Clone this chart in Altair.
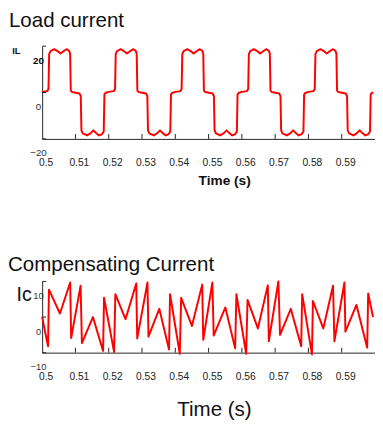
import altair as alt
import pandas as pd

# ---------------- data ----------------
load_t = [
    0.5000, 0.5015, 0.5019, 0.5021, 0.5025, 0.5036, 0.5046, 0.5055, 0.5065, 0.5074, 0.5081, 0.5084, 0.5086, 0.5090,
    0.5112, 0.5116, 0.5118, 0.5122, 0.5135, 0.5145, 0.5154, 0.5163, 0.5171, 0.5180, 0.5185, 0.5187, 0.5190,
    0.5200, 0.5215, 0.5219, 0.5221, 0.5225, 0.5236, 0.5246, 0.5255, 0.5265, 0.5274, 0.5281, 0.5284, 0.5286, 0.5290,
    0.5312, 0.5316, 0.5318, 0.5322, 0.5335, 0.5345, 0.5354, 0.5363, 0.5371, 0.5380, 0.5385, 0.5387, 0.5390,
    0.5400, 0.5415, 0.5419, 0.5421, 0.5425, 0.5436, 0.5446, 0.5455, 0.5465, 0.5474, 0.5481, 0.5484, 0.5486, 0.5490,
    0.5512, 0.5516, 0.5518, 0.5522, 0.5535, 0.5545, 0.5554, 0.5563, 0.5571, 0.5580, 0.5585, 0.5587, 0.5590,
    0.5600, 0.5615, 0.5619, 0.5621, 0.5625, 0.5636, 0.5646, 0.5655, 0.5665, 0.5674, 0.5681, 0.5684, 0.5686, 0.5690,
    0.5712, 0.5716, 0.5718, 0.5722, 0.5735, 0.5745, 0.5754, 0.5763, 0.5771, 0.5780, 0.5785, 0.5787, 0.5790,
    0.5800, 0.5815, 0.5819, 0.5821, 0.5825, 0.5836, 0.5846, 0.5855, 0.5865, 0.5874, 0.5881, 0.5884, 0.5886, 0.5890,
    0.5912, 0.5916, 0.5918, 0.5922, 0.5935, 0.5945, 0.5954, 0.5963, 0.5971, 0.5980, 0.5985, 0.5987, 0.5990,
    0.5995,
]
load_i = [
    0.3, 0.6, 1.5, 16.6, 17.9, 18.7, 17.9, 16.8, 17.9, 18.7, 18.0, 16.8, 0.8, 0.2,
    -0.4, -1.5, -16.3, -17.6, -18.5, -17.6, -16.3, -17.6, -18.5, -17.9, -16.8, -0.9, -0.2,
    0.3, 0.6, 1.5, 16.6, 17.9, 18.7, 17.8, 16.8, 17.9, 18.7, 18.0, 16.8, 0.8, 0.2,
    -0.4, -1.5, -16.3, -17.6, -18.5, -17.6, -16.3, -17.6, -18.5, -17.9, -16.8, -0.9, -0.2,
    0.3, 0.6, 1.5, 16.6, 17.9, 18.7, 17.9, 16.8, 17.9, 18.7, 18.0, 16.8, 0.8, 0.2,
    -0.4, -1.5, -16.3, -17.6, -18.5, -17.6, -16.3, -17.6, -18.5, -17.9, -16.8, -0.9, -0.2,
    0.3, 0.6, 1.5, 16.6, 17.9, 18.7, 17.9, 16.8, 17.9, 18.7, 18.0, 16.8, 0.8, 0.2,
    -0.4, -1.5, -16.3, -17.6, -18.5, -17.6, -16.3, -17.6, -18.5, -17.9, -16.8, -0.9, -0.2,
    0.3, 0.6, 1.5, 16.6, 17.9, 18.7, 17.9, 16.8, 17.9, 18.7, 18.0, 16.8, 0.8, 0.2,
    -0.4, -1.5, -16.3, -17.6, -18.5, -17.6, -16.3, -17.6, -18.5, -17.9, -16.8, -0.9, -0.2,
    0.0,
]

comp_t = [
    0.50000, 0.50176, 0.50205, 0.50534, 0.50842, 0.50871, 0.51155, 0.51194, 0.51525, 0.51830,
    0.51859, 0.52161, 0.52199, 0.52504, 0.52827, 0.52856, 0.53164, 0.53194, 0.53519, 0.53812,
    0.53842, 0.54135, 0.54176, 0.54499, 0.54809, 0.54839, 0.55114, 0.55153, 0.55504, 0.55798,
    0.55836, 0.56129, 0.56170, 0.56481, 0.56780, 0.56810, 0.57097, 0.57147, 0.57469, 0.57783,
    0.57812, 0.58106, 0.58135, 0.58446, 0.58739, 0.58780, 0.59082, 0.59111, 0.59443, 0.59765,
    0.59795, 0.59941,
]
comp_i = [
    0.0, -8.2, 7.7, 1.0, 9.7, -5.9, 8.8, -7.3, 0.0, -9.5,
    5.4, -9.8, 6.4, -0.6, 9.4, -6.0, 9.7, -5.5, 2.3, -9.1,
    6.4, -10.3, 5.4, -2.5, 9.1, -6.4, 9.7, -5.2, 2.7, -8.8,
    6.4, -10.3, 4.8, -3.2, 8.9, -6.8, 10.0, -5.0, 2.3, -8.2,
    6.4, -10.5, 4.5, -3.2, 8.8, -6.8, 9.7, -4.1, 3.4, -8.6,
    6.6, 0.0,
]

x_ticks = [0.5, 0.51, 0.52, 0.53, 0.54, 0.55, 0.56, 0.57, 0.58, 0.59]
il_ticks = [-20, 0, 20]
ic_ticks = [-10, 0, 10]

# ---------------- style ----------------
FONT = "Liberation Sans"
RED = "#ff0000"
AX = "#222222"
W = 341
H1 = 95
H2 = 73

xscale = alt.Scale(domain=[0.5, 0.6], nice=False, zero=False)
ilscale = alt.Scale(domain=[-20, 20], nice=False, zero=False)
icscale = alt.Scale(domain=[-10, 10], nice=False, zero=False)


def x_axis(title_size, title_weight, title_x, title_y):
    return alt.Axis(
        values=x_ticks, format="~g", ticks=False, grid=False,
        labelFlush=False, labelOverlap=False, labelPadding=24,
        labelBaseline="middle", labelOffset=3.5, labelFontSize=10.5,
        labelColor=AX, labelFont=FONT, domainColor=AX, domainWidth=1,
        title="Time (s)", titleFont=FONT, titleFontSize=title_size,
        titleFontWeight=title_weight, titleColor="#111111",
        titleX=title_x, titleY=title_y, titleAlign="center", titleBaseline="middle",
    )


def y_axis(vals, title, size, weight, tx, ty, lsize, bold_top):
    kw = dict(
        values=vals, ticks=False, grid=False, labelOverlap=False, labelFlush=False,
        labelAlign="center", labelBaseline="middle", labelPadding=4.3, labelOffset=14.5,
        labelFontSize=lsize, labelFont=FONT, domainColor=AX, domainWidth=1,
        title=title, titleAngle=0, titleX=tx, titleY=ty, titleAlign="center",
        titleBaseline="middle", titleFontSize=size, titleFontWeight=weight,
        titleColor="#111111", titleFont=FONT,
    )
    if bold_top:
        kw["labelFontWeight"] = {"condition": {"test": "datum.value == 20", "value": "bold"}, "value": "normal"}
        kw["labelColor"] = {"condition": {"test": "datum.value == 20", "value": "#000000"}, "value": "#333333"}
    else:
        kw["labelColor"] = "#333333"
    return alt.Axis(**kw)


load_df = pd.DataFrame({"t": load_t, "v": load_i})
comp_df = pd.DataFrame({"t": comp_t, "v": comp_i})
xt_df = pd.DataFrame({"t": x_ticks[1:]})

X_TOP = x_axis(14, "bold", 186.5, 43)
Y_TOP = y_axis(il_ticks, "IL", 9.5, "bold", -27, 5, 10, True)
X_BOT = x_axis(21, "normal", 176, 58.5)
Y_BOT = y_axis(ic_ticks, "Ic", 20, "normal", -19, 13.5, 9.5, False)

# ---------------- top chart ----------------
top_line = alt.Chart(load_df).mark_line(color=RED, strokeWidth=2, strokeJoin="round").encode(
    x=alt.X("t:Q", scale=xscale, axis=X_TOP),
    y=alt.Y("v:Q", scale=ilscale, axis=Y_TOP),
    order="t:Q",
)
top_xt = alt.Chart(xt_df).mark_rule(color=AX, strokeWidth=1).encode(
    x=alt.X("t:Q", scale=xscale, axis=X_TOP), y=alt.value(H1), y2=alt.value(H1 - 5)
)
top_yt = alt.Chart(pd.DataFrame({"v": il_ticks})).mark_rule(color=AX, strokeWidth=1).encode(
    y=alt.Y("v:Q", scale=ilscale, axis=Y_TOP), x=alt.value(0), x2=alt.value(4)
)
top = alt.layer(top_line, top_xt, top_yt).properties(
    width=W, height=H1,
    title=alt.TitleParams(
        "Load current", anchor="start", frame="group", dx=-34, fontSize=21,
        fontWeight="normal", font=FONT, color="#111111", baseline="top", offset=15.3,
    ),
)

# ---------------- bottom chart ----------------
bot_line = alt.Chart(comp_df).mark_line(color=RED, strokeWidth=2, strokeJoin="round").encode(
    x=alt.X("t:Q", scale=xscale, axis=X_BOT),
    y=alt.Y("v:Q", scale=icscale, axis=Y_BOT),
    order="t:Q",
)
bot_xt = alt.Chart(xt_df).mark_rule(color=AX, strokeWidth=1).encode(
    x=alt.X("t:Q", scale=xscale, axis=X_BOT), y=alt.value(H2), y2=alt.value(H2 - 5)
)
bot_yt = alt.Chart(pd.DataFrame({"v": ic_ticks})).mark_rule(color=AX, strokeWidth=1).encode(
    y=alt.Y("v:Q", scale=icscale, axis=Y_BOT), x=alt.value(0), x2=alt.value(4)
)
bottom = alt.layer(bot_line, bot_xt, bot_yt).properties(
    width=W, height=H2,
    title=alt.TitleParams(
        "Compensating Current", anchor="start", frame="group", dx=-35, fontSize=21,
        fontWeight="normal", font=FONT, color="#111111", baseline="top", offset=5.5,
    ),
)

chart = alt.vconcat(top, bottom, spacing=146, bounds="flush").properties(
    padding={"left": 0, "top": -3, "right": 0, "bottom": 0}, background="white"
).configure_view(stroke=None)

chart.save("out.html", embed_options={"renderer": "svg", "actions": False})
